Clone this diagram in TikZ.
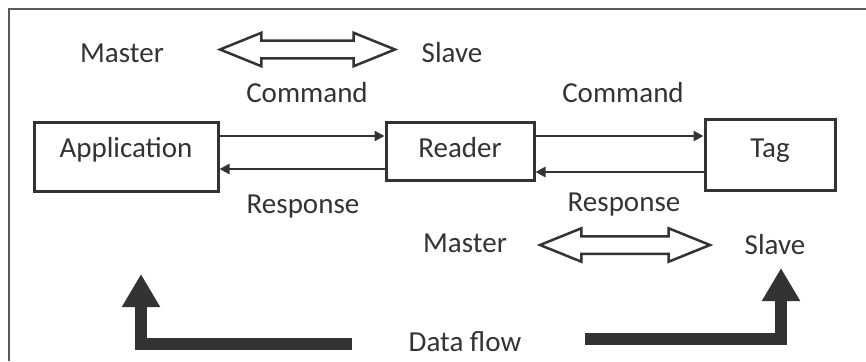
\documentclass[tikz,border=0pt]{standalone}
\usepackage{fontspec}
\setmainfont{Carlito}
\usetikzlibrary{arrows.meta,shapes.arrows}
\definecolor{ink}{HTML}{333333}
\definecolor{txt}{HTML}{333333}
\begin{document}
\begin{tikzpicture}[x=1pt,y=-1pt,
  lbl/.style={text=txt,font=\fontsize{29}{31}\selectfont,inner sep=0pt},
  box/.style={draw=ink,line width=3pt,inner sep=0pt,text=txt,font=\fontsize{29}{31}\selectfont,text height=20pt},
  thin/.style={draw=ink,line width=2.5pt,-{Triangle[length=10pt,width=10pt]}},
  thick/.style={draw=ink,line width=12pt,-{Triangle[length=33pt,width=36pt]}},
  dbl/.style={double arrow,draw=ink,line width=2.5pt,fill=white,inner xsep=0pt,inner ysep=7.5pt,
    minimum width=0pt,double arrow head extend=8pt,double arrow tip angle=44}]
\useasboundingbox (0,0) rectangle (866,361);
% frame
\coordinate (fa) at (9,361);
\coordinate (fb) at (9,9);
\coordinate (fc) at (866,9);
\draw[gray!70!black,line width=2pt] (fa) -- (fb) -- (fc);
% boxes
\node[box,minimum width=184pt,minimum height=69pt,text depth=17.8pt] (app) at (126,156.5) {Application};
\node[box,minimum width=148pt,minimum height=58pt,text depth=6.8pt] (reader) at (460,151) {Reader};
\node[box,minimum width=130pt,minimum height=71pt,text depth=13.8pt] (tag) at (770,154.5) {Tag};
% thin arrows
\draw[thin] (app.east |- 0,136) -- (reader.west |- 0,136);
\draw[thin] (reader.west |- 0,169) -- (app.east |- 0,169);
\draw[thin] (reader.east |- 0,136) -- (tag.west |- 0,136);
\draw[thin] (tag.west |- 0,172) -- (reader.east |- 0,172);
% labels
\node[lbl] (m1) at (122,53) {Master};
\node[lbl] (s1) at (452,53) {Slave};
\node[lbl] (c1) at (307,93) {Command};
\node[lbl] (c2) at (623,93) {Command};
\node[lbl] (r1) at (303,207) {Response};
\node[lbl] (r2) at (624,205) {Response};
\node[lbl] (m2) at (465,243) {Master};
\node[lbl] (s2) at (775,245) {Slave};
\node[lbl] (df) at (465,342) {Data flow};
% double arrows
\node[dbl,minimum height=175pt] (d1) at (307.5,49.5) {};
\node[dbl,minimum height=170pt] (d2) at (625,245) {};
% thick data flow arrows
\coordinate (l0) at (352,344);
\coordinate (l1) at (141,274);
\coordinate (r0) at (585,339);
\coordinate (r1c) at (781,268);
\draw[thick] (l0) -| (l1);
\draw[thick] (r0) -| (r1c);
\end{tikzpicture}
\end{document}
